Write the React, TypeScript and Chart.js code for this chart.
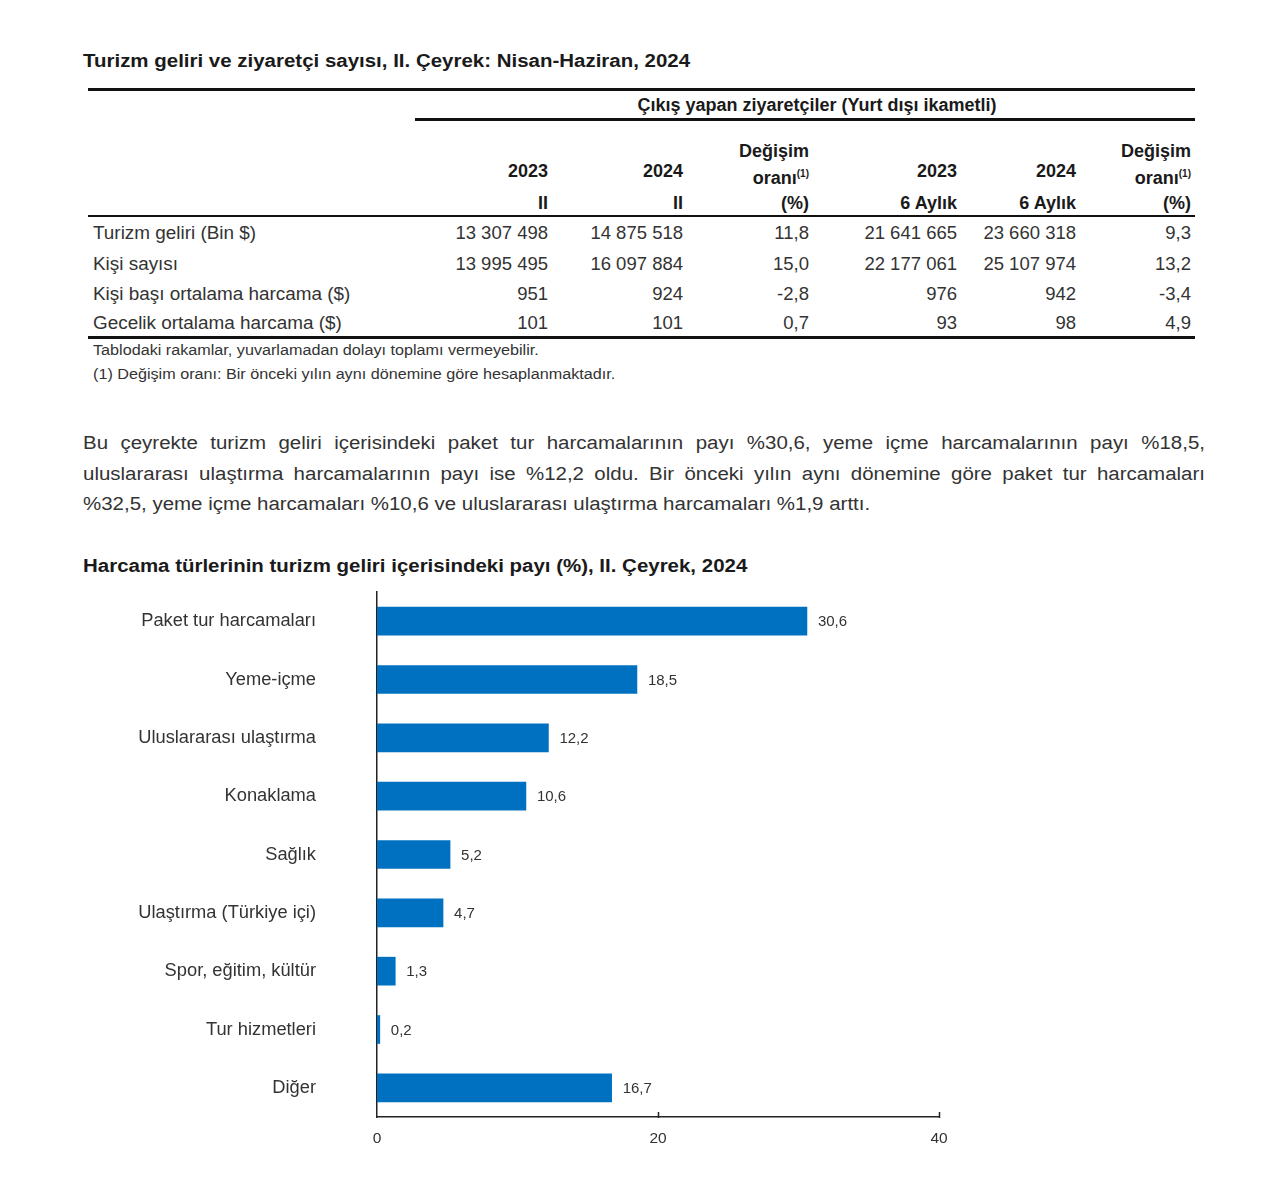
import React, { useEffect, useRef } from "react";
import { Chart, registerables } from "chart.js";

Chart.register(...registerables);

const tableTitle = "Turizm geliri ve ziyaretçi sayısı, II. Çeyrek: Nisan-Haziran, 2024";
const groupHeader = "Çıkış yapan ziyaretçiler (Yurt dışı ikametli)";
const rowLabels = [
  "Turizm geliri (Bin $)",
  "Kişi sayısı",
  "Kişi başı ortalama harcama ($)",
  "Gecelik ortalama harcama ($)",
];
const q2023 = ["13 307 498", "13 995 495", "951", "101"];
const q2024 = ["14 875 518", "16 097 884", "924", "101"];
const qChange = ["11,8", "15,0", "-2,8", "0,7"];
const h2023 = ["21 641 665", "22 177 061", "976", "93"];
const h2024 = ["23 660 318", "25 107 974", "942", "98"];
const hChange = ["9,3", "13,2", "-3,4", "4,9"];
const footnotes = [
  "Tablodaki rakamlar, yuvarlamadan dolayı toplamı vermeyebilir.",
  "(1) Değişim oranı: Bir önceki yılın aynı dönemine göre hesaplanmaktadır.",
];
const paragraphLines = [
  "Bu çeyrekte turizm geliri içerisindeki paket tur harcamalarının payı %30,6, yeme içme harcamalarının payı %18,5,",
  "uluslararası ulaştırma harcamalarının payı ise %12,2 oldu. Bir önceki yılın aynı dönemine göre paket tur harcamaları",
  "%32,5, yeme içme harcamaları %10,6 ve uluslararası ulaştırma harcamaları %1,9 arttı.",
];
const chartTitle = "Harcama türlerinin turizm geliri içerisindeki payı (%), II. Çeyrek, 2024";
const categories = [
  "Paket tur harcamaları",
  "Yeme-içme",
  "Uluslararası ulaştırma",
  "Konaklama",
  "Sağlık",
  "Ulaştırma (Türkiye içi)",
  "Spor, eğitim, kültür",
  "Tur hizmetleri",
  "Diğer",
];
const shares = [30.6, 18.5, 12.2, 10.6, 5.2, 4.7, 1.3, 0.2, 16.7];
const xTicks = [0, 20, 40];

const FONT = '"Liberation Sans", Arial, sans-serif';
const TEXT = "#333";
const DARK = "#1a1a1a";
const STRETCH = 1.137;

type TProps = {
  x: number;
  y: number;
  align?: "left" | "right" | "center";
  size?: number;
  bold?: boolean;
  color?: string;
  stretch?: number;
  children: React.ReactNode;
};

function T({ x, y, align = "left", size = 18, bold = false, color = TEXT, stretch, children }: TProps) {
  const lh = 24;
  const base: React.CSSProperties = {
    position: "absolute",
    top: y - lh / 2,
    lineHeight: lh + "px",
    height: lh,
    fontSize: size,
    fontWeight: bold ? 700 : 400,
    color,
    whiteSpace: "nowrap",
  };
  if (align === "left") {
    base.left = x;
  } else if (align === "right") {
    base.left = x - 500;
    base.width = 500;
    base.textAlign = "right";
  } else {
    base.left = x - 500;
    base.width = 1000;
    base.textAlign = "center";
  }
  if (stretch) {
    base.transform = `scaleX(${stretch})`;
    base.transformOrigin = align === "left" ? "left center" : align === "right" ? "right center" : "center center";
  }
  return <div style={base}>{children}</div>;
}

function Line({ x1, x2, y, w }: { x1: number; x2: number; y: number; w: number }) {
  return (
    <div
      style={{ position: "absolute", left: x1, top: y - w / 2, width: x2 - x1, height: w, background: "#111" }}
    />
  );
}

const Sup = () => <sup style={{ fontSize: 10, verticalAlign: 0, position: "relative", top: -7 }}>(1)</sup>;

function BarChart() {
  const ref = useRef<HTMLCanvasElement | null>(null);
  useEffect(() => {
    if (!ref.current) return;
    const valueLabels = {
      id: "valueLabels",
      afterDatasetsDraw(chart: any) {
        const ctx = chart.ctx;
        const meta = chart.getDatasetMeta(0);
        ctx.save();
        ctx.font = `15px ${FONT}`;
        ctx.fillStyle = TEXT;
        ctx.textAlign = "left";
        ctx.textBaseline = "middle";
        meta.data.forEach((bar: any, i: number) => {
          const v = chart.data.datasets[0].data[i] as number;
          ctx.fillText(v.toFixed(1).replace(".", ","), bar.x + 11, bar.y + 1);
        });
        ctx.restore();
      },
    };
    const innerTicks = {
      id: "innerTicks",
      afterDraw(chart: any) {
        const ctx = chart.ctx;
        const xs = chart.scales.x;
        ctx.save();
        ctx.strokeStyle = "#222";
        ctx.lineWidth = 1.5;
        xTicks.forEach((t) => {
          if (t === 0) return;
          const px = Math.round(xs.getPixelForValue(t)) + 0.5;
          ctx.beginPath();
          ctx.moveTo(px, xs.top + 1);
          ctx.lineTo(px, xs.top - 5);
          ctx.stroke();
        });
        ctx.restore();
      },
    };
    const zeroPad = (s: any) => {
      s.paddingTop = 0;
      s.paddingBottom = 0;
      s.paddingLeft = 0;
      s.paddingRight = 0;
    };
    const chart = new Chart(ref.current, {
      type: "bar",
      data: {
        labels: categories,
        datasets: [
          {
            data: shares,
            backgroundColor: "#0070C0",
            barThickness: 28,
          },
        ],
      },
      options: {
        indexAxis: "y",
        animation: false,
        responsive: false,
        maintainAspectRatio: false,
        layout: { padding: { top: 12, right: 21, left: 0, bottom: 0 } },
        plugins: { legend: { display: false }, tooltip: { enabled: false } },
        scales: {
          y: {
            grid: { display: false, drawTicks: false },
            border: { display: true, color: "#222", width: 1.5 },
            ticks: { font: { size: 18.3, family: FONT }, color: TEXT, padding: 61 },
            afterFit: (s: any) => {
              s.width = 297;
              zeroPad(s);
            },
          },
          x: {
            min: 0,
            max: 40,
            grid: { display: false, drawTicks: false },
            border: { display: true, color: "#222", width: 1.5 },
            ticks: { stepSize: 20, font: { size: 15.5, family: FONT }, color: TEXT, padding: 12 },
            afterFit: (s: any) => {
              s.height = 43;
              zeroPad(s);
            },
          },
        },
      },
      plugins: [valueLabels, innerTicks],
    });
    return () => chart.destroy();
  }, []);
  return (
    <canvas
      ref={ref}
      width={880}
      height={580}
      style={{ position: "absolute", left: 80, top: 580, width: 880, height: 580 }}
    />
  );
}

export default function App() {
  const colRights = [548, 683, 809, 957, 1076, 1191];
  const cols = [q2023, q2024, qChange, h2023, h2024, hChange];
  const rowYs = [233, 264, 294, 323];
  const hdr = { bold: true, size: 18, color: DARK, align: "right" as const };
  return (
    <div
      style={{
        position: "absolute",
        left: 0,
        top: 0,
        width: 1280,
        height: 1201,
        background: "#fff",
        fontFamily: FONT,
        overflow: "hidden",
      }}
    >
      <T x={83} y={61} bold size={18} color={DARK} stretch={STRETCH}>
        {tableTitle}
      </T>
      <Line x1={88} x2={1195} y={89} w={3} />
      <T x={817} y={105} align="center" bold size={18} color={DARK}>
        {groupHeader}
      </T>
      <Line x1={415} x2={1195} y={119} w={3} />

      <T x={548} y={171} {...hdr}>2023</T>
      <T x={548} y={203} {...hdr}>II</T>
      <T x={683} y={171} {...hdr}>2024</T>
      <T x={683} y={203} {...hdr}>II</T>
      <T x={809} y={151} {...hdr}>Değişim</T>
      <T x={809} y={178} {...hdr}>oranı<Sup /></T>
      <T x={809} y={203} {...hdr}>(%)</T>
      <T x={957} y={171} {...hdr}>2023</T>
      <T x={957} y={203} {...hdr}>6 Aylık</T>
      <T x={1076} y={171} {...hdr}>2024</T>
      <T x={1076} y={203} {...hdr}>6 Aylık</T>
      <T x={1191} y={151} {...hdr}>Değişim</T>
      <T x={1191} y={178} {...hdr}>oranı<Sup /></T>
      <T x={1191} y={203} {...hdr}>(%)</T>
      <Line x1={88} x2={1195} y={216} w={2} />

      {rowLabels.map((l, i) => (
        <T key={"l" + i} x={93} y={rowYs[i]} size={18.9}>
          {l}
        </T>
      ))}
      {cols.map((col, c) =>
        col.map((v, i) => (
          <T key={c + "-" + i} x={colRights[c]} y={rowYs[i]} align="right" size={18.5}>
            {v}
          </T>
        ))
      )}
      <Line x1={88} x2={1195} y={337} w={3} />
      <T x={93} y={350} size={14} stretch={1.155}>{footnotes[0]}</T>
      <T x={93} y={374} size={14} stretch={1.155}>{footnotes[1]}</T>

      {paragraphLines.map((line, i) => (
        <div
          key={"p" + i}
          style={{
            position: "absolute",
            left: 83,
            top: 443 + i * 30.5 - 12,
            width: i < 2 ? 1122 / STRETCH : undefined,
            lineHeight: "24px",
            fontSize: 18,
            color: TEXT,
            whiteSpace: i < 2 ? "normal" : "nowrap",
            textAlign: "justify",
            textAlignLast: i < 2 ? "justify" : "left",
            transform: `scaleX(${STRETCH})`,
            transformOrigin: "left center",
          }}
        >
          {line}
        </div>
      ))}

      <T x={83} y={566} bold size={18} color={DARK} stretch={STRETCH}>
        {chartTitle}
      </T>
      <BarChart />
    </div>
  );
}
